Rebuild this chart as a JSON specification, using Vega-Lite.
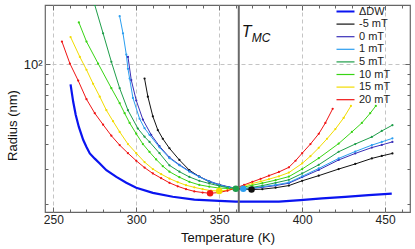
{
  "$schema": "https://vega.github.io/schema/vega-lite/v6.json",
  "width": 365,
  "height": 207,
  "autosize": {"type": "none"},
  "padding": {"left": 45, "top": 5, "right": 5, "bottom": 37},
  "config": {
    "font": "Liberation Sans",
    "view": {"stroke": "#666", "strokeWidth": 1.2},
    "axis": {"domain": false, "tickColor": "#666", "labelColor": "#222", "labelFontSize": 12, "titleFontSize": 13, "titleFontWeight": "normal", "titleColor": "#111", "gridColor": "#c4c4c4", "gridDash": [4, 3], "gridWidth": 1}
  },
  "datasets": {
    "curves": [
      {"s": "ΔDW", "T": 260.4, "R": 79.4}, {"s": "ΔDW", "T": 262, "R": 65}, {"s": "ΔDW", "T": 263.5, "R": 56}, {"s": "ΔDW", "T": 265.4, "R": 48.7}, {"s": "ΔDW", "T": 268, "R": 42}, {"s": "ΔDW", "T": 270, "R": 38.7}, {"s": "ΔDW", "T": 272, "R": 35.9}, {"s": "ΔDW", "T": 275, "R": 33.8}, {"s": "ΔDW", "T": 278, "R": 32}, {"s": "ΔDW", "T": 282, "R": 29.6}, {"s": "ΔDW", "T": 288, "R": 27.4}, {"s": "ΔDW", "T": 294, "R": 25.6}, {"s": "ΔDW", "T": 300, "R": 24.2}, {"s": "ΔDW", "T": 310, "R": 22.8}, {"s": "ΔDW", "T": 322, "R": 21.8}, {"s": "ΔDW", "T": 335, "R": 21.1}, {"s": "ΔDW", "T": 350, "R": 20.8}, {"s": "ΔDW", "T": 360, "R": 20.6}, {"s": "ΔDW", "T": 372, "R": 20.6}, {"s": "ΔDW", "T": 386, "R": 20.6}, {"s": "ΔDW", "T": 399, "R": 21}, {"s": "ΔDW", "T": 412, "R": 21.4}, {"s": "ΔDW", "T": 426, "R": 21.8}, {"s": "ΔDW", "T": 440, "R": 22.2}, {"s": "ΔDW", "T": 454, "R": 22.6},

      {"s": "-5 mT", "T": 305, "R": 85}, {"s": "-5 mT", "T": 307, "R": 69}, {"s": "-5 mT", "T": 310, "R": 55}, {"s": "-5 mT", "T": 313, "R": 47}, {"s": "-5 mT", "T": 316, "R": 42.5}, {"s": "-5 mT", "T": 320, "R": 38.1}, {"s": "-5 mT", "T": 326, "R": 33.3}, {"s": "-5 mT", "T": 332, "R": 29.6}, {"s": "-5 mT", "T": 338, "R": 27.5}, {"s": "-5 mT", "T": 344, "R": 25.9}, {"s": "-5 mT", "T": 350, "R": 25}, {"s": "-5 mT", "T": 356, "R": 24.3}, {"s": "-5 mT", "T": 362, "R": 23.9}, {"s": "-5 mT", "T": 369.5, "R": 23.7}, {"s": "-5 mT", "T": 376, "R": 23.8}, {"s": "-5 mT", "T": 384, "R": 24.2}, {"s": "-5 mT", "T": 392, "R": 24.8}, {"s": "-5 mT", "T": 400, "R": 26.2}, {"s": "-5 mT", "T": 410, "R": 27.8}, {"s": "-5 mT", "T": 422, "R": 30}, {"s": "-5 mT", "T": 432, "R": 31.8}, {"s": "-5 mT", "T": 442, "R": 33.9}, {"s": "-5 mT", "T": 448, "R": 34.9}, {"s": "-5 mT", "T": 454.4, "R": 35.9},

      {"s": "0 mT", "T": 295, "R": 109}, {"s": "0 mT", "T": 297, "R": 83.5}, {"s": "0 mT", "T": 300, "R": 66}, {"s": "0 mT", "T": 304, "R": 53}, {"s": "0 mT", "T": 309, "R": 44.5}, {"s": "0 mT", "T": 314, "R": 39}, {"s": "0 mT", "T": 320, "R": 34.3}, {"s": "0 mT", "T": 326, "R": 31.5}, {"s": "0 mT", "T": 332, "R": 29.3}, {"s": "0 mT", "T": 338, "R": 27.5}, {"s": "0 mT", "T": 344, "R": 26.1}, {"s": "0 mT", "T": 350, "R": 25.1}, {"s": "0 mT", "T": 356, "R": 24.4}, {"s": "0 mT", "T": 360, "R": 24.1}, {"s": "0 mT", "T": 365, "R": 23.9}, {"s": "0 mT", "T": 370, "R": 24}, {"s": "0 mT", "T": 376, "R": 24.3}, {"s": "0 mT", "T": 384, "R": 24.8}, {"s": "0 mT", "T": 392, "R": 25.5}, {"s": "0 mT", "T": 400, "R": 27.3}, {"s": "0 mT", "T": 410, "R": 29.7}, {"s": "0 mT", "T": 422, "R": 33.3}, {"s": "0 mT", "T": 432, "R": 35.9}, {"s": "0 mT", "T": 442, "R": 38.4}, {"s": "0 mT", "T": 448, "R": 39.6}, {"s": "0 mT", "T": 454.4, "R": 41},

      {"s": "1 mT", "T": 290, "R": 174}, {"s": "1 mT", "T": 292, "R": 143}, {"s": "1 mT", "T": 294, "R": 112}, {"s": "1 mT", "T": 295, "R": 95}, {"s": "1 mT", "T": 296, "R": 85}, {"s": "1 mT", "T": 298, "R": 68}, {"s": "1 mT", "T": 302, "R": 53.5}, {"s": "1 mT", "T": 305, "R": 48}, {"s": "1 mT", "T": 308, "R": 44.5}, {"s": "1 mT", "T": 314, "R": 38.5}, {"s": "1 mT", "T": 320, "R": 34}, {"s": "1 mT", "T": 326, "R": 31.3}, {"s": "1 mT", "T": 332, "R": 29.1}, {"s": "1 mT", "T": 338, "R": 27.4}, {"s": "1 mT", "T": 344, "R": 26}, {"s": "1 mT", "T": 350, "R": 25}, {"s": "1 mT", "T": 356, "R": 24.3}, {"s": "1 mT", "T": 360, "R": 24}, {"s": "1 mT", "T": 364.5, "R": 23.9}, {"s": "1 mT", "T": 370, "R": 24.1}, {"s": "1 mT", "T": 376, "R": 24.5}, {"s": "1 mT", "T": 384, "R": 25}, {"s": "1 mT", "T": 392, "R": 25.7}, {"s": "1 mT", "T": 400, "R": 27.6}, {"s": "1 mT", "T": 410, "R": 30.2}, {"s": "1 mT", "T": 422, "R": 33.9}, {"s": "1 mT", "T": 432, "R": 36.7}, {"s": "1 mT", "T": 442, "R": 39.5}, {"s": "1 mT", "T": 448, "R": 41}, {"s": "1 mT", "T": 454.4, "R": 42.7},

      {"s": "5 mT", "T": 273, "R": 228}, {"s": "5 mT", "T": 275, "R": 198}, {"s": "5 mT", "T": 280, "R": 143}, {"s": "5 mT", "T": 285, "R": 103}, {"s": "5 mT", "T": 290, "R": 76}, {"s": "5 mT", "T": 295, "R": 59}, {"s": "5 mT", "T": 301, "R": 47.8}, {"s": "5 mT", "T": 305, "R": 43.5}, {"s": "5 mT", "T": 308, "R": 41}, {"s": "5 mT", "T": 314, "R": 36}, {"s": "5 mT", "T": 320, "R": 31.3}, {"s": "5 mT", "T": 326, "R": 29.1}, {"s": "5 mT", "T": 332, "R": 27.4}, {"s": "5 mT", "T": 338, "R": 26.2}, {"s": "5 mT", "T": 344, "R": 25.4}, {"s": "5 mT", "T": 350, "R": 24.7}, {"s": "5 mT", "T": 355, "R": 24.2}, {"s": "5 mT", "T": 360, "R": 23.9}, {"s": "5 mT", "T": 365, "R": 24}, {"s": "5 mT", "T": 370, "R": 24.3}, {"s": "5 mT", "T": 376, "R": 24.8}, {"s": "5 mT", "T": 384, "R": 25.6}, {"s": "5 mT", "T": 392, "R": 26.5}, {"s": "5 mT", "T": 400, "R": 28.5}, {"s": "5 mT", "T": 410, "R": 31.5}, {"s": "5 mT", "T": 422, "R": 36.6}, {"s": "5 mT", "T": 432, "R": 40}, {"s": "5 mT", "T": 442, "R": 43.4}, {"s": "5 mT", "T": 448, "R": 46.5}, {"s": "5 mT", "T": 454.4, "R": 49.7},

      {"s": "10 mT", "T": 265.4, "R": 162}, {"s": "10 mT", "T": 270, "R": 130}, {"s": "10 mT", "T": 277, "R": 101}, {"s": "10 mT", "T": 285, "R": 76}, {"s": "10 mT", "T": 290, "R": 64}, {"s": "10 mT", "T": 293, "R": 57}, {"s": "10 mT", "T": 296, "R": 51}, {"s": "10 mT", "T": 300, "R": 45}, {"s": "10 mT", "T": 304, "R": 40}, {"s": "10 mT", "T": 308, "R": 36.5}, {"s": "10 mT", "T": 312, "R": 33.5}, {"s": "10 mT", "T": 316, "R": 31}, {"s": "10 mT", "T": 320, "R": 29.1}, {"s": "10 mT", "T": 326, "R": 27.3}, {"s": "10 mT", "T": 332, "R": 25.9}, {"s": "10 mT", "T": 338, "R": 25}, {"s": "10 mT", "T": 344, "R": 24.5}, {"s": "10 mT", "T": 350, "R": 24.1}, {"s": "10 mT", "T": 355, "R": 24}, {"s": "10 mT", "T": 360, "R": 24.1}, {"s": "10 mT", "T": 365, "R": 24.4}, {"s": "10 mT", "T": 370, "R": 24.9}, {"s": "10 mT", "T": 376, "R": 25.5}, {"s": "10 mT", "T": 384, "R": 26.4}, {"s": "10 mT", "T": 392, "R": 27.5}, {"s": "10 mT", "T": 400, "R": 30}, {"s": "10 mT", "T": 410, "R": 34}, {"s": "10 mT", "T": 422, "R": 40.2}, {"s": "10 mT", "T": 430, "R": 46}, {"s": "10 mT", "T": 436, "R": 51}, {"s": "10 mT", "T": 441, "R": 57}, {"s": "10 mT", "T": 444.4, "R": 62},

      {"s": "15 mT", "T": 260.4, "R": 137}, {"s": "15 mT", "T": 266, "R": 109}, {"s": "15 mT", "T": 270, "R": 94}, {"s": "15 mT", "T": 274, "R": 80}, {"s": "15 mT", "T": 278, "R": 69}, {"s": "15 mT", "T": 282, "R": 59}, {"s": "15 mT", "T": 286, "R": 52}, {"s": "15 mT", "T": 290, "R": 46}, {"s": "15 mT", "T": 295, "R": 40}, {"s": "15 mT", "T": 300, "R": 36}, {"s": "15 mT", "T": 305, "R": 32.5}, {"s": "15 mT", "T": 310, "R": 30}, {"s": "15 mT", "T": 315, "R": 28.3}, {"s": "15 mT", "T": 320, "R": 26.9}, {"s": "15 mT", "T": 325, "R": 25.8}, {"s": "15 mT", "T": 330, "R": 24.9}, {"s": "15 mT", "T": 335, "R": 24.3}, {"s": "15 mT", "T": 340, "R": 23.8}, {"s": "15 mT", "T": 345, "R": 23.4}, {"s": "15 mT", "T": 350, "R": 23.3}, {"s": "15 mT", "T": 355, "R": 23.5}, {"s": "15 mT", "T": 360, "R": 24}, {"s": "15 mT", "T": 365, "R": 24.7}, {"s": "15 mT", "T": 370, "R": 25.4}, {"s": "15 mT", "T": 375, "R": 26}, {"s": "15 mT", "T": 380, "R": 26.7}, {"s": "15 mT", "T": 386, "R": 27.6}, {"s": "15 mT", "T": 392, "R": 28.8}, {"s": "15 mT", "T": 400, "R": 32}, {"s": "15 mT", "T": 405, "R": 34.8}, {"s": "15 mT", "T": 410, "R": 38.3}, {"s": "15 mT", "T": 415, "R": 42.5}, {"s": "15 mT", "T": 420, "R": 47.5}, {"s": "15 mT", "T": 425, "R": 54}, {"s": "15 mT", "T": 429.4, "R": 62},

      {"s": "20 mT", "T": 255.2, "R": 130}, {"s": "20 mT", "T": 260, "R": 101}, {"s": "20 mT", "T": 265, "R": 83}, {"s": "20 mT", "T": 270, "R": 67}, {"s": "20 mT", "T": 275, "R": 57}, {"s": "20 mT", "T": 280, "R": 50}, {"s": "20 mT", "T": 285, "R": 44}, {"s": "20 mT", "T": 290, "R": 39.5}, {"s": "20 mT", "T": 295, "R": 36}, {"s": "20 mT", "T": 300, "R": 33}, {"s": "20 mT", "T": 305, "R": 30.5}, {"s": "20 mT", "T": 310, "R": 28.5}, {"s": "20 mT", "T": 315, "R": 27}, {"s": "20 mT", "T": 320, "R": 25.6}, {"s": "20 mT", "T": 325, "R": 24.6}, {"s": "20 mT", "T": 330, "R": 23.8}, {"s": "20 mT", "T": 335, "R": 23.2}, {"s": "20 mT", "T": 340, "R": 22.9}, {"s": "20 mT", "T": 344.5, "R": 22.7}, {"s": "20 mT", "T": 350, "R": 22.9}, {"s": "20 mT", "T": 355, "R": 23.4}, {"s": "20 mT", "T": 360, "R": 24.1}, {"s": "20 mT", "T": 365, "R": 25}, {"s": "20 mT", "T": 370, "R": 25.9}, {"s": "20 mT", "T": 375, "R": 26.8}, {"s": "20 mT", "T": 380, "R": 27.8}, {"s": "20 mT", "T": 386, "R": 29}, {"s": "20 mT", "T": 392, "R": 30.6}, {"s": "20 mT", "T": 396, "R": 33}, {"s": "20 mT", "T": 400, "R": 36}, {"s": "20 mT", "T": 405, "R": 40}, {"s": "20 mT", "T": 410, "R": 45}, {"s": "20 mT", "T": 414, "R": 51}, {"s": "20 mT", "T": 418.4, "R": 60}
    ],
    "minima": [
      {"s": "20 mT", "T": 344.5, "R": 22.7},
      {"s": "15 mT", "T": 350, "R": 23.3},
      {"s": "5 mT", "T": 360, "R": 23.9},
      {"s": "1 mT", "T": 364.5, "R": 23.9},
      {"s": "-5 mT", "T": 369.5, "R": 23.7}
    ],
    "tmc": [{"T": 361.8}],
    "labT": [{"T": 363.6, "R": 145, "t": "T"}],
    "labMC": [{"T": 369.6, "R": 136, "t": "MC"}]
  },
  "layer": [
    {
      "data": {"name": "curves"},
      "mark": {"type": "line", "clip": true},
      "encoding": {
        "x": {"field": "T", "type": "quantitative", "scale": {"domain": [245, 465], "nice": false, "zero": false},
          "axis": {"orient": "bottom", "title": "Temperature (K)", "titleY": 19, "values": [250, 260, 270, 280, 290, 300, 310, 320, 330, 340, 350, 360, 370, 380, 390, 400, 410, 420, 430, 440, 450, 460],
            "labelExpr": "datum.value % 50 == 0 ? datum.label : ''", "labelPadding": 7, "labelFlush": false, "labelOverlap": false,
            "tickSize": {"condition": {"test": "datum.value % 50 == 0", "value": -5}, "value": -3},
            "grid": true, "gridOpacity": {"condition": {"test": "datum.value % 50 == 0", "value": 1}, "value": 0}}},
        "y": {"field": "R", "type": "quantitative", "scale": {"type": "log", "domain": [18.3, 198], "nice": false},
          "axis": {"orient": "left", "title": "Radius (nm)", "titleX": -26, "titleY": 120, "values": [20, 30, 40, 50, 60, 70, 80, 90, 100, 200],
            "labelExpr": "datum.value == 100 ? '10²' : ''", "labelPadding": 8, "labelFontSize": 13, "labelOverlap": false,
            "tickSize": {"condition": {"test": "datum.value == 100", "value": -5}, "value": -3},
            "grid": true, "gridOpacity": {"condition": {"test": "datum.value == 100", "value": 1}, "value": 0}}},
        "color": {"field": "s", "type": "nominal",
          "scale": {"domain": ["ΔDW", "-5 mT", "0 mT", "1 mT", "5 mT", "10 mT", "15 mT", "20 mT"],
            "range": ["#0a14f0", "#111111", "#3a2fb8", "#2b9ef0", "#1f9e4a", "#38d414", "#f2dc00", "#f01414"]},
          "legend": {"orient": "none", "legendX": 295, "legendY": 1, "title": null, "symbolType": "stroke", "symbolSize": 324, "symbolStrokeWidth": 1.2,
            "labelFontSize": 11, "labelColor": "#222", "labelOffset": 8, "rowPadding": 0.6, "padding": 0,
            "encode": {"symbols": {"update": {"strokeWidth": {"signal": "datum.value === 'ΔDW' ? 2 : 1.2"}}}}}},
        "strokeWidth": {"condition": {"test": "datum.s === 'ΔDW'", "value": 2.2}, "value": 1},
        "order": {"field": "T", "type": "quantitative"}
      }
    },
    {
      "data": {"name": "curves"},
      "transform": [{"filter": "datum.s !== 'ΔDW'"}],
      "mark": {"type": "point", "filled": true, "size": 5, "opacity": 1, "clip": true},
      "encoding": {
        "x": {"field": "T", "type": "quantitative",
          "axis": {"orient": "top", "title": null, "labels": false, "grid": false, "values": [250, 260, 270, 280, 290, 300, 310, 320, 330, 340, 350, 360, 370, 380, 390, 400, 410, 420, 430, 440, 450, 460],
            "tickSize": {"condition": {"test": "datum.value % 50 == 0", "value": -5}, "value": -3}}},
        "y": {"field": "R", "type": "quantitative",
          "axis": {"orient": "right", "title": null, "labels": false, "grid": false, "values": [20, 30, 40, 50, 60, 70, 80, 90, 100, 200],
            "tickSize": {"condition": {"test": "datum.value == 100", "value": -5}, "value": -3}}},
        "color": {"field": "s", "type": "nominal", "legend": null}
      }
    },
    {
      "data": {"name": "tmc"},
      "mark": {"type": "rule", "color": "#6a6a6a", "strokeWidth": 2},
      "encoding": {"x": {"field": "T", "type": "quantitative", "axis": null}}
    },
    {
      "data": {"name": "minima"},
      "mark": {"type": "circle", "size": 42, "opacity": 1},
      "encoding": {
        "x": {"field": "T", "type": "quantitative", "axis": null},
        "y": {"field": "R", "type": "quantitative", "axis": null},
        "color": {"field": "s", "type": "nominal", "legend": null}
      }
    },
    {
      "data": {"name": "labT"},
      "mark": {"type": "text", "align": "left", "baseline": "middle", "fontSize": 16, "fontStyle": "italic", "color": "#111"},
      "encoding": {
        "x": {"field": "T", "type": "quantitative", "axis": null},
        "y": {"field": "R", "type": "quantitative", "axis": null},
        "text": {"field": "t"}
      }
    },
    {
      "data": {"name": "labMC"},
      "mark": {"type": "text", "align": "left", "baseline": "middle", "fontSize": 12, "fontStyle": "italic", "color": "#111"},
      "encoding": {
        "x": {"field": "T", "type": "quantitative", "axis": null},
        "y": {"field": "R", "type": "quantitative", "axis": null},
        "text": {"field": "t"}
      }
    }
  ],
  "resolve": {"axis": {"x": "independent", "y": "independent"}}
}
